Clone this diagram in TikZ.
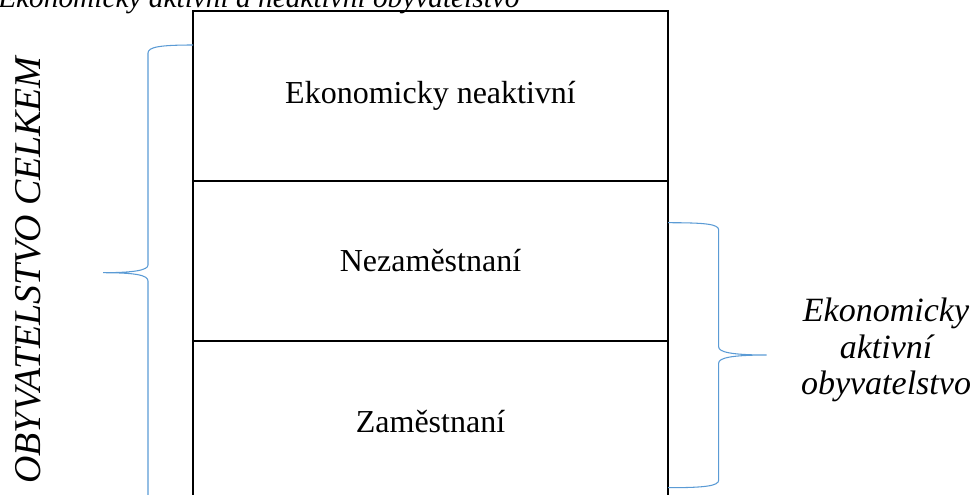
\documentclass[tikz,border=0pt]{standalone}
\usepackage{fontspec}
\setmainfont{Liberation Serif}
\usetikzlibrary{positioning}
\definecolor{braceblue}{RGB}{91,155,213}
\tikzset{
  part/.style={draw, line width=1.5pt, outer sep=0pt, minimum width=356.25pt, font=\fontsize{24}{28}\selectfont},
  brace/.style={draw=braceblue, line width=0.8pt},
}

\begin{document}
\begin{tikzpicture}[x=0.75pt,y=-0.75pt]
  \clip (0,0) rectangle (974,494);
  % sloupec
  \node[part, minimum height=127.5pt, anchor=north west] (neakt) at (193,11) {Ekonomicky neaktivní};
  \node[part, minimum height=120pt, below=0pt of neakt] (nezam) {Nezaměstnaní};
  \node[part, minimum height=121.5pt, below=0pt of nezam] (zam) {Zaměstnaní};
  % popisky
  \node[font=\itshape\fontsize{22}{26}\selectfont, anchor=base west, inner sep=0pt] (nadpis) at (-2,7) {Ekonomicky aktivní a neaktivní obyvatelstvo};
  \node[font=\itshape\fontsize{28.4}{32}\selectfont, rotate=90] (celkem) at (28,270) {OBYVATELSTVO CELKEM};
  \node[font=\itshape\fontsize{25.5}{27.4}\selectfont, align=center] (aktiv) at (886,350) {Ekonomicky\\aktivní\\obyvatelstvo};
  % zavorky
  \draw[brace] (193,45) .. controls (160,45) and (148,47) .. (148,53) -- (148,265)
    .. controls (148,270) and (135,272.7) .. (103,272.7)
    .. controls (135,272.7) and (148,275) .. (148,281) -- (148,496)
    .. controls (148,502) and (160,504) .. (193,504);
  \draw[brace] (668,222.7) .. controls (705,222.7) and (718.7,224) .. (718.7,230) -- (718.7,347)
    .. controls (718.7,352) and (731,355) .. (766.7,355)
    .. controls (731,355) and (718.7,358) .. (718.7,363) -- (718.7,480)
    .. controls (718.7,486) and (705,487.7) .. (668,487.7);
\end{tikzpicture}
\end{document}
